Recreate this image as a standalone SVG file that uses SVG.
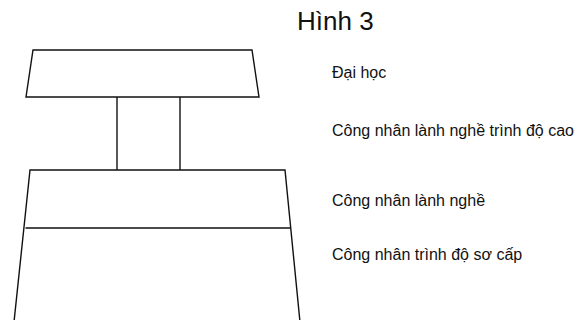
<svg xmlns="http://www.w3.org/2000/svg" width="587" height="320" viewBox="0 0 587 320">
<style>
.s{fill:none;stroke:#111;stroke-width:1.4;stroke-linejoin:miter}
.t{font-family:"Liberation Sans",Arial,sans-serif;fill:#111}
.l{font-size:16px}
.h{font-size:26px}
</style>
<rect width="587" height="320" fill="#fff"/>
<g id="title"><text class="t h" x="297" y="30">Hình 3</text></g>
<g id="top-block"><polygon class="s" points="33,50 252,50 259,97 26,97"/></g>
<g id="stem"><polyline class="s" points="117,97 117,170"/><polyline class="s" points="180,97 180,170"/></g>
<g id="base-block">
<polyline class="s" points="14,322 30,170 285,170 300,322"/>
<line class="s" x1="25.5" y1="228" x2="291" y2="228"/>
</g>
<g id="labels">
<text class="t l" x="332" y="78">Đại học</text>
<text class="t l" x="332" y="136">Công nhân lành nghề trình độ cao</text>
<text class="t l" x="332" y="206">Công nhân lành nghề</text>
<text class="t l" x="332" y="260">Công nhân trình độ sơ cấp</text>
</g>
</svg>
